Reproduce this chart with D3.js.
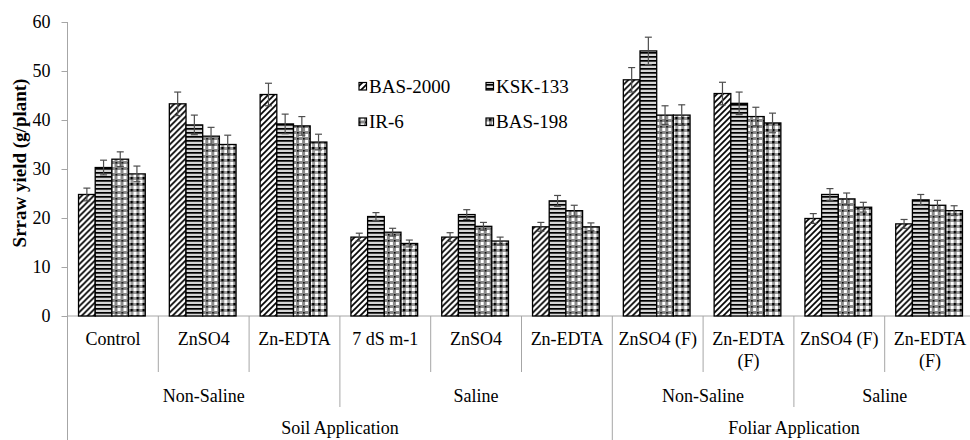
<!DOCTYPE html>
<html>
<head>
<meta charset="utf-8">
<script src="https://d3js.org/d3.v7.min.js"></script>
</head>
<body style="margin:0; background:#fff">
<div id="chart"></div>
<script>
// chart data
var categories = ["Control", "ZnSO4", "Zn-EDTA", "7 dS m-1", "ZnSO4", "Zn-EDTA",
	"ZnSO4 (F)", "Zn-EDTA (F)", "ZnSO4 (F)", "Zn-EDTA (F)"];
var salinityGroups = ["Non-Saline", "Saline", "Non-Saline", "Saline"];
var salinitySpans = [3, 3, 2, 2];
var methodGroups = ["Soil Application", "Foliar Application"];
var methodSpans = [6, 4];

var seriesNames = ["BAS-2000", "KSK-133", "IR-6", "BAS-198"];
var bas2000 = [24.8, 43.3, 45.2, 16.1, 16.1, 18.2, 48.2, 45.4, 19.9, 18.8];
var ksk133 = [30.3, 39.0, 39.2, 20.3, 20.7, 23.5, 54.1, 43.4, 24.8, 23.7];
var ir6 = [32.0, 36.7, 38.8, 17.1, 18.3, 21.5, 41.0, 40.7, 23.9, 22.6];
var bas198 = [29.0, 35.0, 35.5, 14.8, 15.3, 18.2, 41.0, 39.4, 22.2, 21.5];

var bas2000Err = [1.3, 2.4, 2.3, 0.8, 0.9, 0.9, 2.5, 2.3, 1.0, 0.9];
var ksk133Err = [1.5, 2.0, 2.0, 0.8, 1.0, 1.1, 2.8, 2.3, 1.2, 1.1];
var ir6Err = [1.5, 1.8, 1.9, 0.8, 0.8, 1.1, 1.9, 1.9, 1.2, 1.0];
var bas198Err = [1.6, 1.9, 1.6, 0.7, 0.8, 0.8, 2.1, 2.0, 1.0, 1.0];

var yTicks = [0, 10, 20, 30, 40, 50, 60];

var width = 970,
	height = 440,
	plotLeft = 67.5,
	plotRight = 975.5,
	plotTop = 22,
	plotBottom = 316,
	axisColor = "#a6a6a6",
	serif = "'Liberation Serif'",
	svg, x0, x1, y;

function init() {
	svg = d3.select("#chart")
		.append("svg")
		.attr("width", width)
		.attr("height", height);

	makePatterns();
	setScales();
	drawAxes();
	drawBars();
	drawCategoryLabels();
	drawLegend();

	// every label in the serif face
	svg.selectAll("text").style("font-family", serif);
}

function makePatterns() {
	var defs = svg.append("defs");

	// wide upward diagonal
	var p0 = defs.append("pattern").attr("id", "pat0")
		.attr("patternUnits", "userSpaceOnUse").attr("width", 6).attr("height", 6);
	p0.append("rect").attr("width", 6).attr("height", 6).attr("fill", "#fff");
	p0.append("path")
		.attr("d", "M-1,1 L1,-1 M0,6 L6,0 M5,7 L7,5")
		.attr("stroke", "#000").attr("stroke-width", 1.7);

	// horizontal lines
	var p1 = defs.append("pattern").attr("id", "pat1")
		.attr("patternUnits", "userSpaceOnUse").attr("width", 4).attr("height", 4);
	p1.append("rect").attr("width", 4).attr("height", 4).attr("fill", "#d6d6d6");
	p1.append("rect").attr("width", 4).attr("height", 1.7).attr("fill", "#000");

	// small grid with dots
	var p2 = defs.append("pattern").attr("id", "pat2")
		.attr("patternUnits", "userSpaceOnUse").attr("width", 6).attr("height", 6);
	p2.append("rect").attr("width", 6).attr("height", 6).attr("fill", "#8a8a8a");
	p2.append("rect").attr("x", 2).attr("y", 2).attr("width", 3).attr("height", 3).attr("fill", "#fff");
	p2.append("rect").attr("x", 0).attr("y", 0).attr("width", 1.6).attr("height", 1.6).attr("fill", "#000");

	// checker with grey
	var p3 = defs.append("pattern").attr("id", "pat3")
		.attr("patternUnits", "userSpaceOnUse").attr("width", 6).attr("height", 6);
	p3.append("rect").attr("width", 6).attr("height", 6).attr("fill", "#9a9a9a");
	p3.append("rect").attr("x", 0).attr("y", 0).attr("width", 3).attr("height", 3).attr("fill", "#fff");
	p3.append("rect").attr("x", 3).attr("y", 3).attr("width", 2.5).attr("height", 2.5).attr("fill", "#000");
}

function setScales() {
	x0 = d3.scaleBand()
		.domain(d3.range(categories.length))
		.range([plotLeft, plotRight])
		.padding(0);

	var gap = x0.bandwidth() * 0.265;
	x1 = d3.scaleBand()
		.domain(seriesNames)
		.range([gap / 2 - 1, x0.bandwidth() - gap / 2 - 1])
		.padding(0);

	y = d3.scaleLinear()
		.domain([0, 60])
		.range([plotBottom, plotTop]);
}

function drawAxes() {
	var yAxis = d3.axisLeft(y)
		.tickValues(yTicks)
		.tickSize(6)
		.tickPadding(11);

	var gy = svg.append("g")
		.attr("transform", "translate(" + plotLeft + ",0)")
		.call(yAxis);
	gy.select(".domain").remove();
	gy.selectAll(".tick line").attr("stroke", axisColor);
	gy.selectAll(".tick text")
		.style("font-size", "18px")
		.attr("fill", "#000");

	// y axis line reaches down through the label rows
	svg.append("line")
		.attr("x1", plotLeft).attr("x2", plotLeft)
		.attr("y1", plotTop).attr("y2", height)
		.attr("stroke", axisColor);

	svg.append("line")
		.attr("x1", plotLeft).attr("x2", plotRight)
		.attr("y1", plotBottom).attr("y2", plotBottom)
		.attr("stroke", axisColor);

	svg.append("text")
		.attr("transform", "translate(26," + 163 + ") rotate(-90)")
		.attr("text-anchor", "middle")
		.style("font-size", "19px")
		.style("font-weight", "bold")
		.text("Srraw yield (g/plant)");
}

function drawBars() {
	var values = [bas2000, ksk133, ir6, bas198];
	var errors = [bas2000Err, ksk133Err, ir6Err, bas198Err];

	var groups = svg.append("g").selectAll("g")
		.data(categories)
		.enter().append("g")
		.attr("transform", function(d, i) { return "translate(" + x0(i) + ",0)"; });

	groups.selectAll("rect")
		.data(function(d, i) {
			return seriesNames.map(function(s, k) {
				return { series: s, k: k, value: values[k][i], err: errors[k][i] };
			});
		})
		.enter().append("rect")
		.attr("x", function(d) { return x1(d.series); })
		.attr("y", function(d) { return y(d.value); })
		.attr("width", x1.bandwidth())
		.attr("height", function(d) { return y(0) - y(d.value); })
		.attr("fill", function(d) { return "url(#pat" + d.k + ")"; })
		.attr("stroke", "#000")
		.attr("stroke-width", 1.3);

	// error bars
	var eb = groups.selectAll(".err")
		.data(function(d, i) {
			return seriesNames.map(function(s, k) {
				return { series: s, value: values[k][i], err: errors[k][i] };
			});
		})
		.enter().append("g")
		.attr("class", "err")
		.attr("stroke", "#4d4d4d")
		.attr("stroke-width", 1.2);

	eb.append("line")
		.attr("x1", function(d) { return x1(d.series) + x1.bandwidth() / 2; })
		.attr("x2", function(d) { return x1(d.series) + x1.bandwidth() / 2; })
		.attr("y1", function(d) { return y(d.value - d.err); })
		.attr("y2", function(d) { return y(d.value + d.err); });
	eb.append("line")
		.attr("x1", function(d) { return x1(d.series) + x1.bandwidth() / 2 - 3.5; })
		.attr("x2", function(d) { return x1(d.series) + x1.bandwidth() / 2 + 3.5; })
		.attr("y1", function(d) { return y(d.value + d.err); })
		.attr("y2", function(d) { return y(d.value + d.err); });
	eb.append("line")
		.attr("x1", function(d) { return x1(d.series) + x1.bandwidth() / 2 - 3.5; })
		.attr("x2", function(d) { return x1(d.series) + x1.bandwidth() / 2 + 3.5; })
		.attr("y1", function(d) { return y(d.value - d.err); })
		.attr("y2", function(d) { return y(d.value - d.err); });
}

function drawCategoryLabels() {
	var bw = x0.bandwidth();
	var labels = svg.append("g");

	// level 1: treatments
	categories.forEach(function(c, i) {
		var t = labels.append("text")
			.attr("x", x0(i) + bw / 2)
			.attr("y", 345)
			.attr("text-anchor", "middle")
			.style("font-family", serif)
			.style("font-size", "18px")
			.text(c);
		if (t.node().getComputedTextLength() > bw - 2) {
			var words = c.split(" ");
			t.text(null);
			words.forEach(function(w, j) {
				t.append("tspan")
					.attr("x", x0(i) + bw / 2)
					.attr("y", 345 + j * 22)
					.text(w);
			});
		}
	});

	// tick lines between treatments, longer at group edges
	var edges = {};
	var pos = 0;
	salinitySpans.forEach(function(s) { pos += s; edges[pos] = 407; });
	pos = 0;
	methodSpans.forEach(function(s) { pos += s; edges[pos] = height; });

	for (var i = 1; i <= categories.length; i++) {
		labels.append("line")
			.attr("x1", x0(0) + i * bw).attr("x2", x0(0) + i * bw)
			.attr("y1", plotBottom).attr("y2", edges[i] || 372)
			.attr("stroke", axisColor);
	}

	// level 2: salinity
	pos = 0;
	salinityGroups.forEach(function(g, k) {
		var cx = x0(0) + (pos + salinitySpans[k] / 2) * bw;
		labels.append("text")
			.attr("x", cx).attr("y", 402)
			.attr("text-anchor", "middle")
			.style("font-size", "18px")
			.text(g);
		pos += salinitySpans[k];
	});

	// level 3: method
	pos = 0;
	methodGroups.forEach(function(g, k) {
		var cx = x0(0) + (pos + methodSpans[k] / 2) * bw;
		labels.append("text")
			.attr("x", cx).attr("y", 434)
			.attr("text-anchor", "middle")
			.style("font-size", "18px")
			.text(g);
		pos += methodSpans[k];
	});
}

function drawLegend() {
	var legend = svg.append("g")
		.attr("transform", "translate(359,80)");

	var item = legend.selectAll("g")
		.data(seriesNames)
		.enter().append("g")
		.attr("transform", function(d, i) {
			return "translate(" + (i % 2) * 127 + "," + Math.floor(i / 2) * 35.5 + ")";
		});

	item.append("rect")
		.attr("width", 7.5)
		.attr("height", 7.5)
		.attr("y", 2.5)
		.attr("fill", function(d, i) { return "url(#pat" + i + ")"; })
		.attr("stroke", "#000")
		.attr("stroke-width", 1.2);

	item.append("text")
		.attr("x", 10)
		.attr("y", 12.5)
		.style("font-size", "19px")
		.text(function(d) { return d; });
}

init();
</script>
</body>
</html>
